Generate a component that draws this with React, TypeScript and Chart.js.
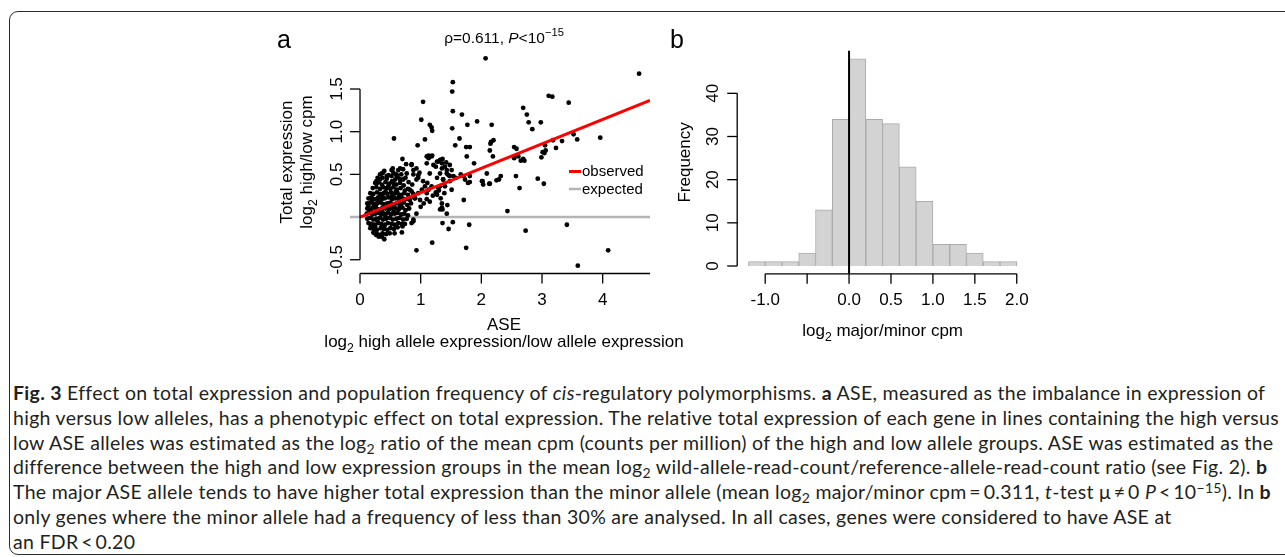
import React, { useEffect, useRef } from "react";
import { Chart, registerables } from "chart.js";
Chart.register(...registerables);

const FONT = '"Liberation Sans", Arial, Helvetica, sans-serif';

// ---------- Panel a: scatter data (ASE, total expression) ----------
const outlierPoints: [number, number][] = [
  [2.07, 1.86], [4.6, 1.68], [1.53, 1.58], [1.52, 1.47], [3.11, 1.42], [3.17, 1.41], [1.04, 1.35], [3.44, 1.34],
  [2.69, 1.28], [1.53, 1.24], [1.68, 1.2], [2.75, 1.2], [1.01, 1.14], [1.93, 1.12], [2.78, 1.11], [2.98, 1.11],
  [1.15, 1.08], [1.18, 1.05], [1.19, 1.01], [1.77, 1.08], [2.17, 1.08], [1.52, 1.04], [2.84, 1.03], [3.52, 0.97],
  [3.58, 0.91], [3.96, 0.93], [0.56, 0.92], [1.64, 0.92], [1.07, 0.91], [2.2, 0.9], [2.16, 0.88], [2.15, 0.86],
  [3.18, 0.9], [3.33, 0.89], [3.23, 0.81], [0.95, 0.84], [1.57, 0.84], [1.75, 0.82], [1.81, 0.82], [2.14, 0.78],
  [3.05, 0.84], [3.06, 0.78], [3.01, 0.76], [3.04, 0.75], [2.99, 0.7], [2.54, 0.82], [2.58, 0.8], [2.61, 0.71],
  [2.69, 0.68], [2.71, 0.66], [2.65, 0.66], [2.54, 0.69], [0.7, 0.68], [1.1, 0.71], [1.19, 0.72], [1.13, 0.69],
  [1.36, 0.68], [1.76, 0.71], [2.19, 0.71], [1.88, 0.63], [2.09, 0.51], [2.32, 0.48], [2.29, 0.44], [2.57, 0.48],
  [2.63, 0.34], [2.93, 0.45], [3.03, 0.39], [2.01, 0.42], [2.14, 0.39], [1.81, 0.41], [1.71, 0.48], [1.51, 0.32],
  [1.71, 0.2], [2.43, 0.07], [0.93, -0.39], [1.19, -0.3], [1.75, -0.36], [1.8, -0.09], [1.53, -0.06], [1.36, -0.07],
  [1.46, -0.14], [2.73, -0.16], [3.41, -0.09], [4.09, -0.39], [3.59, -0.57], [1.35, 0.16], [1.36, 0.09], [1.43, 0.04],
  [1.35, 0.11], [1.1, 0.21], [1.2, 0.25], [1.25, 0.29], [1.3, 0.31], [1.0, 0.12], [0.85, -0.07], [0.88, -0.05],
  [0.69, -0.08], [0.69, -0.18], [0.57, -0.19], [0.4, -0.26], [0.31, -0.23], [0.28, -0.2], [0.24, -0.19],
  [1.58, 0.46], [1.66, 0.5], [1.73, 0.44], [1.78, 0.4], [1.81, 0.48], [2.02, 0.42], [2.03, 0.38], [2.13, 0.39],
  [2.25, 0.43], [1.44, 0.14], [1.32, 0.09], [1.27, 0.26], [1.33, 0.22], [1.39, 0.28], [1.15, 0.18], [1.1, 0.28],
  [0.88, -0.03], [0.93, 0.04], [0.7, -0.11], [0.36, -0.23], [0.27, -0.21], [0.22, -0.18], [0.18, -0.1],
];

const upperClusterPoints: [number, number][] = [
  [1.27, 0.65], [1.32, 0.67], [1.42, 0.64], [1.48, 0.61], [1.25, 0.59], [1.35, 0.57], [1.43, 0.55], [1.51, 0.55],
  [1.32, 0.51], [1.46, 0.49], [1.54, 0.48], [1.27, 0.46], [1.37, 0.44], [1.48, 0.42], [1.4, 0.36], [1.29, 0.34],
  [0.93, 0.57], [0.98, 0.52], [0.88, 0.5], [0.96, 0.46], [1.04, 0.42], [1.11, 0.4], [1.07, 0.36], [1.02, 0.32],
  [0.96, 0.28], [0.91, 0.22], [0.99, 0.2], [1.05, 0.16], [0.82, 0.32], [1.13, 0.32], [1.18, 0.36],
  [0.27, 0.42], [0.36, 0.51], [0.52, 0.55], [0.6, 0.49], [0.66, 0.57], [0.71, 0.44], [0.77, 0.51], [0.85, 0.61],
  [0.88, 0.55], [0.93, 0.44], [0.96, 0.49], [1.13, 0.72], [1.18, 0.71], [1.1, 0.63], [1.21, 0.61], [1.15, 0.51],
  [1.29, 0.65], [1.35, 0.63], [1.4, 0.59], [1.43, 0.51], [1.37, 0.44], [1.48, 0.48], [1.32, 0.36],
  [0.85, 0.62], [0.76, 0.62], [0.54, 0.57], [0.63, 0.55], [0.71, 0.56], [0.38, 0.52], [0.44, 0.48], [0.37, 0.46],
  [0.3, 0.42], [0.28, 0.4], [0.52, 0.48], [0.6, 0.5], [0.66, 0.44], [0.55, 0.4],
];

const corePoints: [number, number][] = [
  [0.33, 0.5], [0.4, 0.54], [0.47, 0.49], [0.55, 0.52], [0.62, 0.47], [0.68, 0.5], [0.75, 0.46], [0.44, 0.45], [0.58, 0.44], [0.29, 0.46],
  [0.25, 0.4], [0.31, 0.41], [0.36, 0.38], [0.42, 0.41], [0.48, 0.39], [0.53, 0.42], [0.6, 0.38], [0.66, 0.4], [0.72, 0.37], [0.8, 0.41], [0.86, 0.38],
  [0.21, 0.34], [0.27, 0.35], [0.33, 0.33], [0.38, 0.35], [0.44, 0.34], [0.5, 0.33], [0.55, 0.35], [0.61, 0.32], [0.67, 0.34], [0.74, 0.31], [0.79, 0.33], [0.85, 0.3],
  [0.17, 0.28], [0.22, 0.27], [0.28, 0.29], [0.33, 0.27], [0.39, 0.28], [0.45, 0.27], [0.51, 0.29], [0.56, 0.27], [0.62, 0.28], [0.68, 0.26], [0.73, 0.28], [0.79, 0.26], [0.88, 0.27],
  [0.14, 0.22], [0.19, 0.23], [0.25, 0.21], [0.3, 0.23], [0.36, 0.21], [0.41, 0.22], [0.47, 0.23], [0.53, 0.21], [0.58, 0.22], [0.64, 0.2], [0.7, 0.22], [0.76, 0.21], [0.82, 0.2], [0.9, 0.22],
  [0.12, 0.16], [0.17, 0.17], [0.23, 0.15], [0.28, 0.16], [0.34, 0.17], [0.39, 0.15], [0.45, 0.16], [0.5, 0.17], [0.56, 0.15], [0.61, 0.16], [0.67, 0.15], [0.72, 0.17], [0.78, 0.14], [0.84, 0.16],
  [0.12, 0.1], [0.16, 0.09], [0.21, 0.11], [0.26, 0.1], [0.31, 0.09], [0.37, 0.11], [0.42, 0.1], [0.48, 0.09], [0.53, 0.11], [0.59, 0.1], [0.64, 0.09], [0.7, 0.11], [0.75, 0.08], [0.81, 0.1],
  [0.11, 0.04], [0.15, 0.05], [0.2, 0.03], [0.25, 0.04], [0.3, 0.05], [0.35, 0.03], [0.4, 0.04], [0.46, 0.05], [0.51, 0.03], [0.57, 0.04], [0.62, 0.05], [0.68, 0.03], [0.73, 0.04], [0.79, 0.02],
  [0.12, -0.02], [0.17, -0.01], [0.22, -0.03], [0.27, -0.02], [0.33, -0.01], [0.38, -0.03], [0.43, -0.02], [0.49, -0.01], [0.54, -0.03], [0.6, -0.02], [0.65, -0.01], [0.71, -0.03], [0.77, -0.02],
  [0.14, -0.07], [0.19, -0.08], [0.24, -0.09], [0.3, -0.07], [0.35, -0.08], [0.41, -0.09], [0.46, -0.07], [0.52, -0.08], [0.57, -0.09], [0.63, -0.07], [0.74, -0.08],
  [0.17, -0.13], [0.23, -0.14], [0.28, -0.15], [0.34, -0.13], [0.39, -0.14], [0.45, -0.15], [0.5, -0.13], [0.56, -0.14], [0.62, -0.12],
  [0.26, -0.2], [0.32, -0.21], [0.37, -0.19], [0.43, -0.2], [0.49, -0.19],
  [0.2, 0.19], [0.26, 0.13], [0.31, 0.19], [0.37, 0.24], [0.42, 0.3], [0.48, 0.13], [0.53, 0.25], [0.59, 0.3], [0.64, 0.24], [0.36, 0.07],
  [0.42, 0.01], [0.29, -0.05], [0.18, 0.07], [0.14, 0.13], [0.25, -0.11], [0.47, 0.37], [0.55, 0.06], [0.66, 0.12], [0.4, -0.11], [0.33, 0.44],
];

const fitLineX = [0, 4.78];
const fitLineY = [0, 1.367];
const expectedLineX = [-0.165, 4.78];
const expectedLineY = [0, 0];
const scatterXTicks = [0, 1, 2, 3, 4];
const scatterYTicks = [-0.5, 0.5, 1.0, 1.5];
const scatterYTickLabels = ["-0.5", "0.5", "1.0", "1.5"];

// ---------- Panel b: histogram ----------
const binCenters = [-1.1, -0.9, -0.7, -0.5, -0.3, -0.1, 0.1, 0.3, 0.5, 0.7, 0.9, 1.1, 1.3, 1.5, 1.7, 1.9];
const binCounts = [1, 1, 1, 3, 13, 34, 48, 34, 33, 23, 15, 5, 5, 3, 1, 1];
const histXTicks = [-1.0, -0.5, 0.0, 0.5, 1.0, 1.5, 2.0];
const histXTickLabels = ["-1.0", "", "0.0", "0.5", "1.0", "1.5", "2.0"];
const histYTicks = [0, 10, 20, 30, 40];

const captionLines: { t: string; b?: boolean; it?: boolean; sub?: boolean; sup?: boolean }[][] = [
  [{ t: "Fig. 3", b: true }, { t: " Effect on total expression and population frequency of " }, { t: "cis", it: true }, { t: "-regulatory polymorphisms. " }, { t: "a", b: true }, { t: " ASE, measured as the imbalance in expression of" }],
  [{ t: "high versus low alleles, has a phenotypic effect on total expression. The relative total expression of each gene in lines containing the high versus" }],
  [{ t: "low ASE alleles was estimated as the log" }, { t: "2", sub: true }, { t: " ratio of the mean cpm (counts per million) of the high and low allele groups. ASE was estimated as the" }],
  [{ t: "difference between the high and low expression groups in the mean log" }, { t: "2", sub: true }, { t: " wild-allele-read-count/reference-allele-read-count ratio (see Fig. 2). " }, { t: "b", b: true }],
  [{ t: "The major ASE allele tends to have higher total expression than the minor allele (mean log" }, { t: "2", sub: true }, { t: " major/minor cpm\u2009=\u20090.311, " }, { t: "t", it: true }, { t: "-test \u03bc\u2009\u2260\u20090 " }, { t: "P", it: true }, { t: "\u2009<\u200910" }, { t: "\u221215", sup: true }, { t: "). In " }, { t: "b", b: true }],
  [{ t: "only genes where the minor allele had a frequency of less than 30% are analysed. In all cases, genes were considered to have ASE at" }],
  [{ t: "an FDR\u2009<\u20090.20" }],
];

type Part = { t: string; sub?: boolean; sup?: boolean; it?: boolean; b?: boolean };

function drawParts(ctx: CanvasRenderingContext2D, parts: Part[], x: number, y: number, size: number, align: "center" | "left") {
  const fontFor = (p: Part) => `${p.it ? "italic " : ""}${p.b ? "bold " : ""}${p.sub || p.sup ? size * 0.72 : size}px ${FONT}`;
  let w = 0;
  for (const p of parts) {
    ctx.font = fontFor(p);
    w += ctx.measureText(p.t).width;
  }
  let cx = align === "center" ? x - w / 2 : x;
  ctx.textAlign = "left";
  ctx.textBaseline = "alphabetic";
  for (const p of parts) {
    ctx.font = fontFor(p);
    const dy = p.sub ? size * 0.28 : p.sup ? -size * 0.42 : 0;
    ctx.fillText(p.t, cx, y + dy);
    cx += ctx.measureText(p.t).width;
  }
}

function drawRotated(ctx: CanvasRenderingContext2D, parts: Part[], x: number, y: number, size: number) {
  ctx.save();
  ctx.translate(x, y);
  ctx.rotate(-Math.PI / 2);
  drawParts(ctx, parts, 0, 0, size, "center");
  ctx.restore();
}

function line(ctx: CanvasRenderingContext2D, x1: number, y1: number, x2: number, y2: number) {
  ctx.beginPath();
  ctx.moveTo(x1, y1);
  ctx.lineTo(x2, y2);
  ctx.stroke();
}

const SC_LEFT = 250;
const SC_W = 480;
const H_LEFT = 660;
const H_W = 400;
const CANVAS_H = 360;
const AX = 17;

const scatterDecor = {
  id: "scatterDecor",
  afterDraw(chart: any) {
    const ctx: CanvasRenderingContext2D = chart.ctx;
    const xs = chart.scales.x;
    const ys = chart.scales.y;
    const ca = chart.chartArea;
    const o = SC_LEFT; // page -> canvas offset for fixed label positions
    ctx.save();
    ctx.strokeStyle = "#000";
    ctx.fillStyle = "#000";
    ctx.lineWidth = 1.3;
    // y axis
    const yAxX = xs.getPixelForValue(0);
    line(ctx, yAxX, ys.getPixelForValue(-0.5), yAxX, ys.getPixelForValue(1.5));
    scatterYTicks.forEach((v, i) => {
      const py = ys.getPixelForValue(v);
      line(ctx, yAxX - 10, py, yAxX, py);
      ctx.save();
      ctx.translate(yAxX - 18, py);
      ctx.rotate(-Math.PI / 2);
      ctx.font = `${AX}px ${FONT}`;
      ctx.textAlign = "center";
      ctx.textBaseline = "alphabetic";
      ctx.fillText(scatterYTickLabels[i], 0, 0);
      ctx.restore();
    });
    // x axis
    const xAxY = ca.bottom - 0.5;
    line(ctx, xs.getPixelForValue(0), xAxY, ca.right, xAxY);
    scatterXTicks.forEach((v) => {
      const px = xs.getPixelForValue(v);
      line(ctx, px, xAxY, px, xAxY + 10);
      ctx.font = `${AX}px ${FONT}`;
      ctx.textAlign = "center";
      ctx.textBaseline = "alphabetic";
      ctx.fillText(String(v), px, xAxY + 31);
    });
    const cx = (ca.left + ca.right) / 2 + 4;
    drawParts(ctx, [{ t: "ASE" }], cx, 330, AX, "center");
    drawParts(ctx, [{ t: "log" }, { t: "2", sub: true }, { t: " high allele expression/low allele expression" }], cx, 347, AX, "center");
    const cy = (ca.top + ca.bottom) / 2;
    drawRotated(ctx, [{ t: "Total expression" }], 292 - o, cy, AX);
    drawRotated(ctx, [{ t: "log" }, { t: "2", sub: true }, { t: " high/low cpm" }], 312 - o, cy, AX);
    // title
    drawParts(ctx, [{ t: "\u03c1=0.611, " }, { t: "P", it: true }, { t: "<10" }, { t: "\u221215", sup: true }], 504 - o, 43, 15.5, "center");
    // panel letter
    ctx.font = `25px ${FONT}`;
    ctx.textAlign = "left";
    ctx.textBaseline = "alphabetic";
    ctx.fillText("a", 277 - o, 48);
    // legend
    ctx.lineWidth = 3;
    ctx.strokeStyle = "#ff0000";
    line(ctx, 569 - o, 171.5, 581 - o, 171.5);
    ctx.strokeStyle = "#b4b4b4";
    ctx.lineWidth = 2.5;
    line(ctx, 569 - o, 189, 581 - o, 189);
    ctx.font = `15px ${FONT}`;
    ctx.fillStyle = "#000";
    ctx.textBaseline = "middle";
    ctx.fillText("observed", 582 - o, 172);
    ctx.fillText("expected", 582 - o, 189.5);
    ctx.restore();
  },
};

const histDecor = {
  id: "histDecor",
  afterDraw(chart: any) {
    const ctx: CanvasRenderingContext2D = chart.ctx;
    const xs = chart.scales.x;
    const ys = chart.scales.y;
    const ca = chart.chartArea;
    const o = H_LEFT;
    ctx.save();
    ctx.strokeStyle = "#000";
    ctx.fillStyle = "#000";
    ctx.lineWidth = 1.3;
    const yAxX = ca.left - 0.5;
    line(ctx, yAxX, ys.getPixelForValue(0), yAxX, ys.getPixelForValue(40));
    histYTicks.forEach((v) => {
      const py = ys.getPixelForValue(v);
      line(ctx, yAxX - 10, py, yAxX, py);
      ctx.save();
      ctx.translate(yAxX - 19, py);
      ctx.rotate(-Math.PI / 2);
      ctx.font = `${AX}px ${FONT}`;
      ctx.textAlign = "center";
      ctx.textBaseline = "alphabetic";
      ctx.fillText(String(v), 0, 0);
      ctx.restore();
    });
    const xAxY = ca.bottom - 0.5;
    line(ctx, xs.getPixelForValue(-1), xAxY, xs.getPixelForValue(2), xAxY);
    histXTicks.forEach((v, i) => {
      const px = xs.getPixelForValue(v);
      line(ctx, px, xAxY, px, xAxY + 10);
      ctx.font = `${AX}px ${FONT}`;
      ctx.textAlign = "center";
      ctx.textBaseline = "alphabetic";
      if (histXTickLabels[i]) ctx.fillText(histXTickLabels[i], px, xAxY + 31);
    });
    const cx = (ca.left + ca.right) / 2;
    drawParts(ctx, [{ t: "log" }, { t: "2", sub: true }, { t: " major/minor cpm" }], cx, 336, AX, "center");
    drawRotated(ctx, [{ t: "Frequency" }], 690 - o, (ca.top + ca.bottom) / 2, AX);
    ctx.font = `25px ${FONT}`;
    ctx.textAlign = "left";
    ctx.textBaseline = "alphabetic";
    ctx.fillText("b", 670 - o, 48);
    ctx.restore();
  },
};

export default function App() {
  const scRef = useRef<HTMLCanvasElement>(null);
  const hRef = useRef<HTMLCanvasElement>(null);

  useEffect(() => {
    const toXY = (arr: [number, number][]) => arr.map(([x, y]) => ({ x, y }));
    const pts = [...corePoints, ...upperClusterPoints, ...outlierPoints];
    const sc = new Chart(scRef.current!, {
      type: "scatter",
      data: {
        datasets: [
          {
            type: "line",
            data: expectedLineX.map((x, i) => ({ x, y: expectedLineY[i] })),
            borderColor: "#b4b4b4",
            borderWidth: 2.5,
            pointRadius: 0,
            order: 3,
          } as any,
          {
            data: toXY(pts),
            backgroundColor: "#000",
            borderWidth: 0,
            pointRadius: 2.4,
            order: 2,
          },
          {
            type: "line",
            data: fitLineX.map((x, i) => ({ x, y: fitLineY[i] })),
            borderColor: "#ff0000",
            borderWidth: 3,
            pointRadius: 0,
            order: 1,
          } as any,
        ],
      },
      options: {
        animation: false,
        responsive: false,
        maintainAspectRatio: false,
        events: [],
        layout: { padding: { left: 350 - SC_LEFT, right: SC_W - (650 - SC_LEFT), top: 50, bottom: CANVAS_H - 274 } },
        plugins: { legend: { display: false }, tooltip: { enabled: false } },
        scales: {
          x: { type: "linear", min: -0.165, max: 4.78, display: false },
          y: { type: "linear", min: -0.667, max: 1.957, display: false },
        },
      },
      plugins: [scatterDecor],
    });

    const h = new Chart(hRef.current!, {
      type: "bar",
      data: {
        datasets: [
          {
            data: binCenters.map((x, i) => ({ x, y: binCounts[i] })),
            backgroundColor: "#d3d3d3",
            borderColor: "#ababab",
            borderWidth: 1,
            barPercentage: 1,
            categoryPercentage: 1,
            order: 2,
          } as any,
          {
            type: "line",
            data: [{ x: 0, y: -1.92 }, { x: 0, y: 49.92 }],
            borderColor: "#000",
            borderWidth: 2,
            pointRadius: 0,
            order: 1,
          } as any,
        ],
      },
      options: {
        animation: false,
        responsive: false,
        maintainAspectRatio: false,
        events: [],
        layout: { padding: { left: 737.7 - H_LEFT, right: H_W - (1027.5 - H_LEFT), top: 50.5, bottom: CANVAS_H - 274.3 } },
        plugins: { legend: { display: false }, tooltip: { enabled: false } },
        scales: {
          x: { type: "linear", min: -1.328, max: 2.128, offset: false, display: false },
          y: { type: "linear", min: -1.92, max: 49.92, display: false },
        },
      },
      plugins: [histDecor],
    });
    return () => {
      sc.destroy();
      h.destroy();
    };
  }, []);

  const capFont = '"Lato", "Open Sans", sans-serif';
  return (
    <div style={{ position: "fixed", left: 0, top: 0, width: 1285, height: 557, background: "#fff", overflow: "hidden" }}>
      <div
        style={{
          position: "absolute",
          left: 9,
          top: 11,
          width: 1300,
          height: 544,
          border: "1.5px solid #2b2b2b",
          borderRadius: 9,
          boxSizing: "border-box",
        }}
      />
      <canvas ref={scRef} width={SC_W} height={CANVAS_H} style={{ position: "absolute", left: SC_LEFT, top: 0, width: SC_W, height: CANVAS_H }} />
      <canvas ref={hRef} width={H_W} height={CANVAS_H} style={{ position: "absolute", left: H_LEFT, top: 0, width: H_W, height: CANVAS_H }} />
      {captionLines.map((parts, i) => (
        <div
          key={i}
          style={{
            position: "absolute",
            left: 13,
            top: 381 + i * 24.8,
            whiteSpace: "nowrap",
            fontFamily: capFont,
            fontSize: 19.5,
            letterSpacing: "0.3px",
            lineHeight: "24px",
            color: "#231f20",
          }}
        >
          {parts.map((p, j) => {
            const st: React.CSSProperties = {};
            if (p.b) st.fontWeight = 700;
            if (p.it) st.fontStyle = "italic";
            if (p.sub) return <sub key={j} style={{ fontSize: "0.72em", verticalAlign: "-0.25em", lineHeight: 0 }}>{p.t}</sub>;
            if (p.sup) return <sup key={j} style={{ fontSize: "0.72em", verticalAlign: "0.45em", lineHeight: 0 }}>{p.t}</sup>;
            return <span key={j} style={st}>{p.t}</span>;
          })}
        </div>
      ))}
    </div>
  );
}
